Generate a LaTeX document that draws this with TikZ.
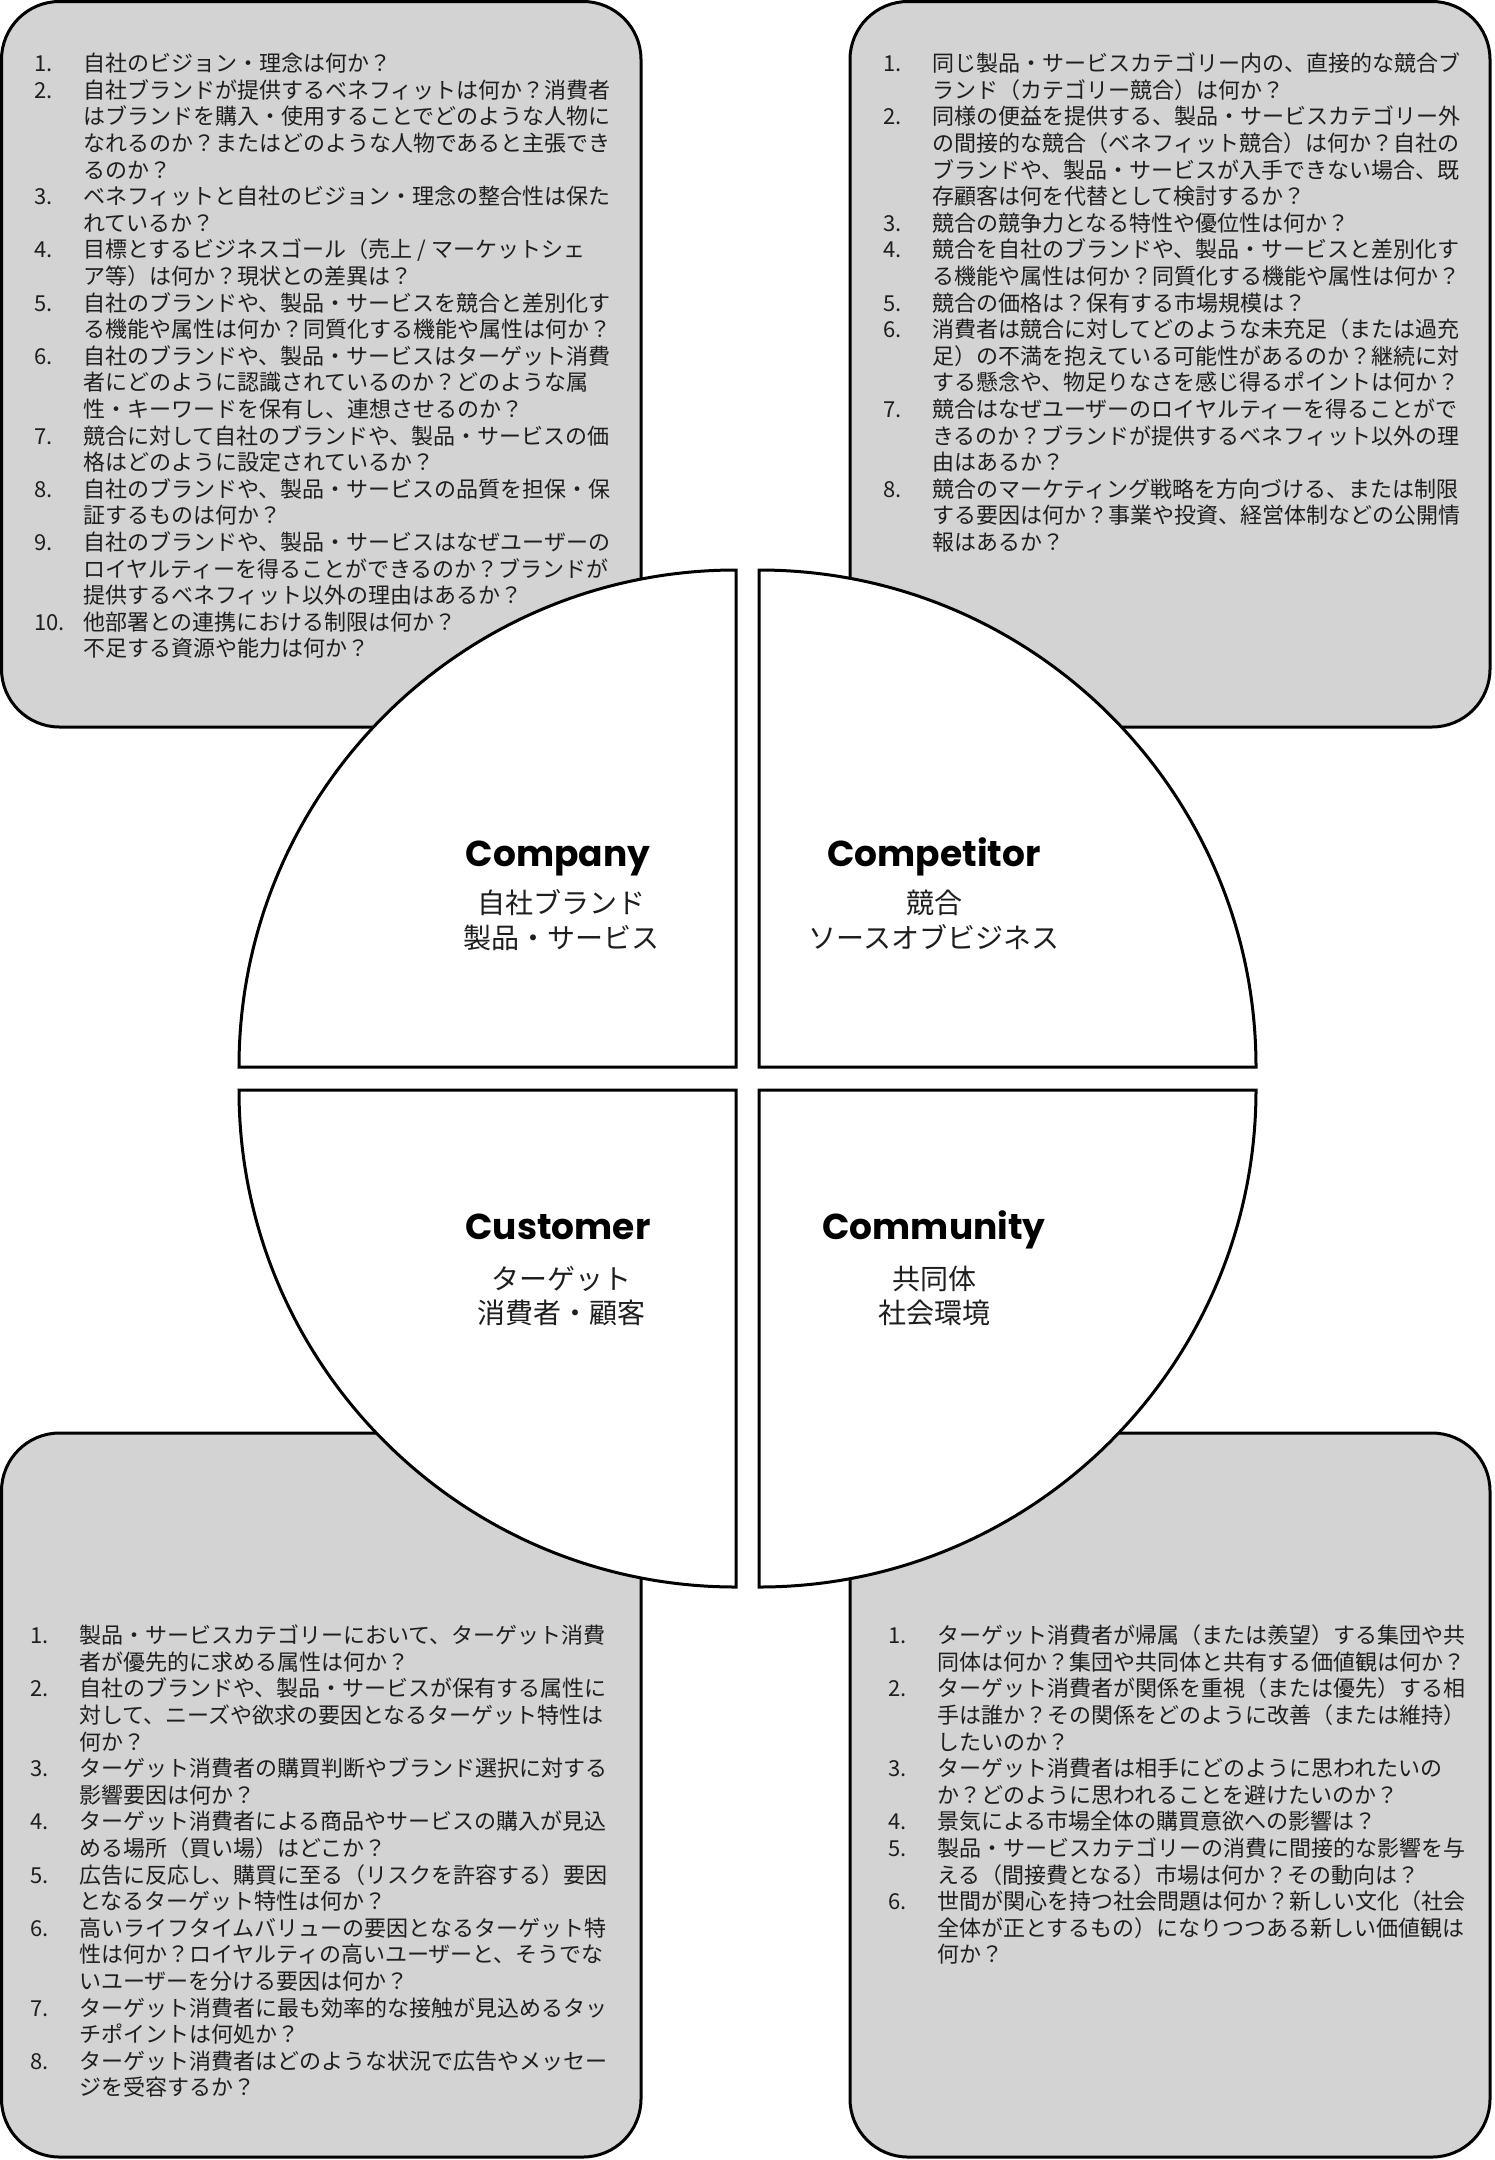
\documentclass[tikz,border=0pt]{standalone}
\usepackage{fontspec}
\newfontfamily\jpfont{Noto Sans CJK JP}
\newfontfamily\labfont{Poppins}
\definecolor{boxgray}{RGB}{211,211,211}
\definecolor{txt}{RGB}{30,30,30}
\newcommand\itemno[1]{\makebox[49pt][l]{#1}}
\newcommand\contind{\hspace*{49pt}}
\newcommand\topstrut{\rule{0pt}{21pt}}
\begin{document}
\begin{tikzpicture}[x=1pt,y=-1pt,
  panel/.style={draw=black, line width=3pt, fill=boxgray, rounded corners=58pt},
  quad/.style={draw=black, line width=3pt, fill=white, line join=miter},
  qtext/.style={inner sep=0pt, anchor=north west, align=left, text=txt, font=\jpfont\fontsize{22}{26.6}\selectfont},
  titlelab/.style={inner sep=0pt, anchor=base, text=black, font=\labfont\bfseries\fontsize{36}{40}\selectfont},
  sublab/.style={inner sep=0pt, anchor=base, text=txt, font=\jpfont\fontsize{28}{35}\selectfont}
]
\useasboundingbox (0,0) rectangle (1495,2160);
\fill[white] (0,0) rectangle (1495,2160);

% grey question panels
\draw[panel] (1.5,1.5) rectangle (641,727);
\draw[panel] (850,1.5) rectangle (1490,727);
\draw[panel] (1.5,1433) rectangle (641,2157);
\draw[panel] (850,1433) rectangle (1490,2157);

% four quadrants of the circle
\draw[quad] (736,1067) -- ++(-497,0) arc[start angle=180,end angle=270,radius=497] -- cycle;
\draw[quad] (759,1067) -- ++(497,0) arc[start angle=0,end angle=-90,radius=497] -- cycle;
\draw[quad] (736,1090) -- ++(-497,0) arc[start angle=180,end angle=90,radius=497] -- cycle;
\draw[quad] (759,1090) -- ++(497,0) arc[start angle=0,end angle=90,radius=497] -- cycle;

% quadrant labels
\node[titlelab] (company) at (558,866) {Company};
\node[sublab] (company1) at (561,913) {自社ブランド};
\node[sublab] (company2) at (561,948) {製品・サービス};

\node[titlelab] (competitor) at (934,866) {Competitor};
\node[sublab] (competitor1) at (934,913) {競合};
\node[sublab] (competitor2) at (934,948) {ソースオブビジネス};

\node[titlelab] (customer) at (558,1239) {Customer};
\node[sublab] (customer1) at (561,1289) {ターゲット};
\node[sublab] (customer2) at (561,1323) {消費者・顧客};

\node[titlelab] (community) at (934,1239) {Community};
\node[sublab] (community1) at (934,1289) {共同体};
\node[sublab] (community2) at (934,1323) {社会環境};

% question lists
\node[qtext] (qcompany) at (34,50.4) {\topstrut\itemno{1.}自社のビジョン・理念は何か？\\
\itemno{2.}自社ブランドが提供するベネフィットは何か？消費者\\
\contind はブランドを購入・使用することでどのような人物に\\
\contind なれるのか？またはどのような人物であると主張でき\\
\contind るのか？\\
\itemno{3.}ベネフィットと自社のビジョン・理念の整合性は保た\\
\contind れているか？\\
\itemno{4.}目標とするビジネスゴール（売上 / マーケットシェ\\
\contind ア等）は何か？現状との差異は？\\
\itemno{5.}自社のブランドや、製品・サービスを競合と差別化す\\
\contind る機能や属性は何か？同質化する機能や属性は何か？\\
\itemno{6.}自社のブランドや、製品・サービスはターゲット消費\\
\contind 者にどのように認識されているのか？どのような属\\
\contind 性・キーワードを保有し、連想させるのか？\\
\itemno{7.}競合に対して自社のブランドや、製品・サービスの価\\
\contind 格はどのように設定されているか？\\
\itemno{8.}自社のブランドや、製品・サービスの品質を担保・保\\
\contind 証するものは何か？\\
\itemno{9.}自社のブランドや、製品・サービスはなぜユーザーの\\
\contind ロイヤルティーを得ることができるのか？ブランドが\\
\contind 提供するベネフィット以外の理由はあるか？\\
\itemno{10.}他部署との連携における制限は何か？\\
\contind 不足する資源や能力は何か？};

\node[qtext] (qcompetitor) at (883,50.4) {\topstrut\itemno{1.}同じ製品・サービスカテゴリー内の、直接的な競合ブ\\
\contind ランド（カテゴリー競合）は何か？\\
\itemno{2.}同様の便益を提供する、製品・サービスカテゴリー外\\
\contind の間接的な競合（ベネフィット競合）は何か？自社の\\
\contind ブランドや、製品・サービスが入手できない場合、既\\
\contind 存顧客は何を代替として検討するか？\\
\itemno{3.}競合の競争力となる特性や優位性は何か？\\
\itemno{4.}競合を自社のブランドや、製品・サービスと差別化す\\
\contind る機能や属性は何か？同質化する機能や属性は何か？\\
\itemno{5.}競合の価格は？保有する市場規模は？\\
\itemno{6.}消費者は競合に対してどのような未充足（または過充\\
\contind 足）の不満を抱えている可能性があるのか？継続に対\\
\contind する懸念や、物足りなさを感じ得るポイントは何か？\\
\itemno{7.}競合はなぜユーザーのロイヤルティーを得ることがで\\
\contind きるのか？ブランドが提供するベネフィット以外の理\\
\contind 由はあるか？\\
\itemno{8.}競合のマーケティング戦略を方向づける、または制限\\
\contind する要因は何か？事業や投資、経営体制などの公開情\\
\contind 報はあるか？};

\node[qtext] (qcustomer) at (30,1622.4) {\topstrut\itemno{1.}製品・サービスカテゴリーにおいて、ターゲット消費\\
\contind 者が優先的に求める属性は何か？\\
\itemno{2.}自社のブランドや、製品・サービスが保有する属性に\\
\contind 対して、ニーズや欲求の要因となるターゲット特性は\\
\contind 何か？\\
\itemno{3.}ターゲット消費者の購買判断やブランド選択に対する\\
\contind 影響要因は何か？\\
\itemno{4.}ターゲット消費者による商品やサービスの購入が見込\\
\contind める場所（買い場）はどこか？\\
\itemno{5.}広告に反応し、購買に至る（リスクを許容する）要因\\
\contind となるターゲット特性は何か？\\
\itemno{6.}高いライフタイムバリューの要因となるターゲット特\\
\contind 性は何か？ロイヤルティの高いユーザーと、そうでな\\
\contind いユーザーを分ける要因は何か？\\
\itemno{7.}ターゲット消費者に最も効率的な接触が見込めるタッ\\
\contind チポイントは何処か？\\
\itemno{8.}ターゲット消費者はどのような状況で広告やメッセー\\
\contind ジを受容するか？};

\node[qtext] (qcommunity) at (888,1622.4) {\topstrut\itemno{1.}ターゲット消費者が帰属（または羨望）する集団や共\\
\contind 同体は何か？集団や共同体と共有する価値観は何か？\\
\itemno{2.}ターゲット消費者が関係を重視（または優先）する相\\
\contind 手は誰か？その関係をどのように改善（または維持）\\
\contind したいのか？\\
\itemno{3.}ターゲット消費者は相手にどのように思われたいの\\
\contind か？どのように思われることを避けたいのか？\\
\itemno{4.}景気による市場全体の購買意欲への影響は？\\
\itemno{5.}製品・サービスカテゴリーの消費に間接的な影響を与\\
\contind える（間接費となる）市場は何か？その動向は？\\
\itemno{6.}世間が関心を持つ社会問題は何か？新しい文化（社会\\
\contind 全体が正とするもの）になりつつある新しい価値観は\\
\contind 何か？};
\end{tikzpicture}
\end{document}
